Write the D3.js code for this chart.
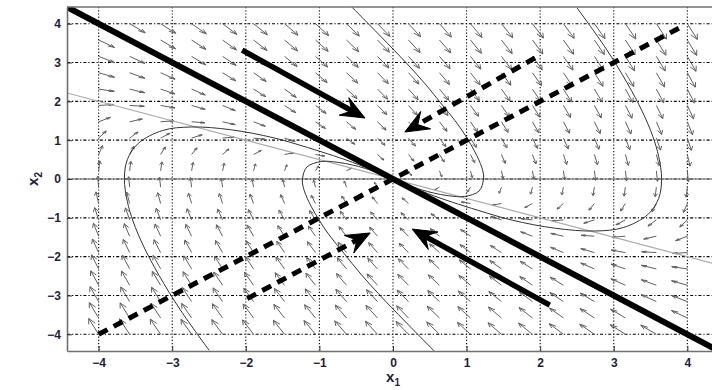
<!DOCTYPE html>
<html>
<head>
<meta charset="utf-8">
<script src="https://cdn.jsdelivr.net/npm/d3@7"></script>
<style>
  body { margin: 0; background: #fff; }
  svg { display: block; }
  text { font-family: "Liberation Sans", Arial, Helvetica, sans-serif; }
</style>
</head>
<body>
<svg id="chart" width="712" height="390"></svg>
<script>
// ---- data ---------------------------------------------------------------
const tickValues = [-4, -3, -2, -1, 0, 1, 2, 3, 4];

// quiver sample points (20 evenly spaced values from -4 to 4, both axes)
const quiverGrid = [-4, -3.5789, -3.1579, -2.7368, -2.3158, -1.8947, -1.4737, -1.0526,
  -0.6316, -0.2105, 0.2105, 0.6316, 1.0526, 1.4737, 1.8947, 2.3158, 2.7368,
  3.1579, 3.5789, 4];

// linear system dx/dt = A x (critically damped, double eigenvalue -1)
const systemMatrix = [[0, 1], [-1, -2]];

// eigenvector line x2 = -x1 (thick solid)
const eigenLine = [[-4.43, 4.43], [4.43, -4.43]];
// line x2 = x1 (thick dashed)
const diagonalLine = [[-4, -4], [3.95, 3.95]];
// nullcline dx2/dt = 0, x2 = -x1/2 (thin gray)
const nullcline = [[-4.43, 2.215], [4.43, -2.215]];

// big direction arrows [x0, y0, x1, y1]
const solidArrows = [[-2.05, 3.32, -0.38, 1.57], [2.13, -3.25, 0.26, -1.29]];
const dashedArrows = [[1.93, 3.12, 0.16, 1.21], [-1.98, -3.08, -0.31, -1.39]];

// phase-plane trajectories
const traj1 = [[-0.56, 4.43], [-0.16, 3.66], [0.18, 2.99], [0.45, 2.42], [0.66, 1.93],
  [0.84, 1.51], [0.97, 1.16], [1.14, 0.6], [1.22, 0.21], [1.23, 0], [1.17, -0.31],
  [0.97, -0.45], [0.75, -0.43], [0.55, -0.36], [0.39, -0.28], [0.27, -0.2],
  [0.13, -0.1], [0, 0]];
const traj2 = [[2.5, 4.41], [2.89, 3.37], [3.18, 2.48], [3.39, 1.73], [3.53, 1.1],
  [3.61, 0.58], [3.65, 0], [3.61, -0.5], [3.46, -0.92], [3.13, -1.25], [2.74, -1.34],
  [2.21, -1.27], [1.62, -1.06], [1.16, -0.81], [0.81, -0.6], [0.55, -0.43],
  [0.25, -0.2], [0.11, -0.09], [0, 0]];
const traj3 = [[-2.5, -4.41], [-2.89, -3.37], [-3.18, -2.48], [-3.39, -1.73], [-3.53, -1.1],
  [-3.61, -0.58], [-3.65, 0], [-3.61, 0.5], [-3.46, 0.92], [-3.13, 1.25], [-2.74, 1.34],
  [-2.21, 1.27], [-1.62, 1.06], [-1.16, 0.81], [-0.81, 0.6], [-0.55, 0.43],
  [-0.25, 0.2], [-0.11, 0.09], [0, 0]];
const traj4 = [[0.56, -4.43], [0.16, -3.66], [-0.18, -2.99], [-0.45, -2.42], [-0.66, -1.93],
  [-0.84, -1.51], [-0.97, -1.16], [-1.14, -0.6], [-1.22, -0.21], [-1.23, 0], [-1.17, 0.31],
  [-0.97, 0.45], [-0.75, 0.43], [-0.55, 0.36], [-0.39, 0.28], [-0.27, 0.2],
  [-0.13, 0.1], [0, 0]];
const trajectories = [traj1, traj2, traj3, traj4];

// ---- layout -------------------------------------------------------------
const svg = d3.select("#chart");
const plot = { left: 67, top: 7, right: 719, bottom: 351 };
const x = d3.scaleLinear().domain([-4.43, 4.43]).range([plot.left, plot.right]);
const y = d3.scaleLinear().domain([-4.43, 4.43]).range([plot.bottom, plot.top]);

svg.append("rect").attr("width", 712).attr("height", 390).attr("fill", "#fff");

svg.append("defs").append("clipPath").attr("id", "plotArea")
  .append("rect")
  .attr("x", plot.left).attr("y", plot.top)
  .attr("width", plot.right - plot.left).attr("height", plot.bottom - plot.top);

const g = svg.append("g").attr("clip-path", "url(#plotArea)");

// grid
g.append("g").selectAll("line").data(tickValues).join("line")
  .attr("x1", d => x(d)).attr("x2", d => x(d))
  .attr("y1", plot.top).attr("y2", plot.bottom)
  .attr("stroke", "#000").attr("stroke-width", 1.1)
  .attr("stroke-dasharray", "1.2,2");
g.append("g").selectAll("line").data(tickValues).join("line")
  .attr("x1", plot.left).attr("x2", plot.right)
  .attr("y1", d => y(d)).attr("y2", d => y(d))
  .attr("stroke", "#000").attr("stroke-width", 1.1)
  .attr("stroke-dasharray", "3,2,1.2,2");

// quiver field
const lenK = 0.155, lenPow = 0.4, headA = 0.33, headB = 0.33;
const arrows = [];
quiverGrid.forEach(gx => quiverGrid.forEach(gy => {
  const u = systemMatrix[0][0] * gx + systemMatrix[0][1] * gy;
  const v = systemMatrix[1][0] * gx + systemMatrix[1][1] * gy;
  const m = Math.hypot(u, v);
  if (m === 0) return;
  const s = lenK * Math.pow(m, lenPow) / m;
  arrows.push({ gx, gy, du: u * s, dv: v * s });
}));
g.append("g").selectAll("path").data(arrows).join("path")
  .attr("d", a => {
    const tx = a.gx + a.du, ty = a.gy + a.dv;
    const h1x = tx - headA * (a.du + headB * a.dv), h1y = ty - headA * (a.dv - headB * a.du);
    const h2x = tx - headA * (a.du - headB * a.dv), h2y = ty - headA * (a.dv + headB * a.du);
    return `M${x(a.gx)},${y(a.gy)}L${x(tx)},${y(ty)}` +
      `M${x(h1x)},${y(h1y)}L${x(tx)},${y(ty)}L${x(h2x)},${y(h2y)}`;
  })
  .attr("fill", "none").attr("stroke", "#606060").attr("stroke-width", 1);

// x2 = 0 reference line
g.append("line")
  .attr("x1", plot.left).attr("x2", plot.right)
  .attr("y1", y(0)).attr("y2", y(0))
  .attr("stroke", "#6a6a6a").attr("stroke-width", 1);

const line = d3.line().x(d => x(d[0])).y(d => y(d[1]));

// nullcline
g.append("path").attr("d", line(nullcline))
  .attr("fill", "none").attr("stroke", "#aaa").attr("stroke-width", 1.2);

// trajectories
const curve = d3.line().x(d => x(d[0])).y(d => y(d[1])).curve(d3.curveCatmullRom.alpha(0.5));
g.append("g").selectAll("path").data(trajectories).join("path")
  .attr("d", curve)
  .attr("fill", "none").attr("stroke", "#333").attr("stroke-width", 1);

// thick eigenvector line and dashed diagonal
g.append("path").attr("d", line(eigenLine))
  .attr("fill", "none").attr("stroke", "#000").attr("stroke-width", 6);
g.append("path").attr("d", line(diagonalLine))
  .attr("fill", "none").attr("stroke", "#000").attr("stroke-width", 5)
  .attr("stroke-dasharray", "10,7");

// big arrows with filled heads
function bigArrow(a, dashed) {
  const p0 = [x(a[0]), y(a[1])], p1 = [x(a[2]), y(a[3])];
  const dx = p1[0] - p0[0], dy = p1[1] - p0[1], L = Math.hypot(dx, dy);
  const ux = dx / L, uy = dy / L, nx = -uy, ny = ux;
  const headL = 24, headW = 10, notch = 15;
  const nb = [p1[0] - ux * notch, p1[1] - uy * notch];
  g.append("path")
    .attr("d", `M${p0[0]},${p0[1]}L${nb[0]},${nb[1]}`)
    .attr("fill", "none").attr("stroke", "#000")
    .attr("stroke-width", dashed ? 5 : 5.5)
    .attr("stroke-dasharray", dashed ? "10,7" : null);
  const b1 = [p1[0] - ux * headL + nx * headW, p1[1] - uy * headL + ny * headW];
  const b2 = [p1[0] - ux * headL - nx * headW, p1[1] - uy * headL - ny * headW];
  g.append("path")
    .attr("d", `M${p1[0]},${p1[1]}L${b1[0]},${b1[1]}L${nb[0]},${nb[1]}L${b2[0]},${b2[1]}Z`)
    .attr("fill", "#000").attr("stroke", "#000").attr("stroke-width", 1);
}
solidArrows.forEach(a => bigArrow(a, false));
dashedArrows.forEach(a => bigArrow(a, true));

// axes
const tickColor = "#1e1e3c";
const xAxis = svg.append("g").attr("transform", `translate(0,${plot.bottom})`)
  .call(d3.axisBottom(x).tickValues(tickValues).tickSizeInner(-5).tickSizeOuter(0).tickPadding(7));
const yAxis = svg.append("g").attr("transform", `translate(${plot.left},0)`)
  .call(d3.axisLeft(y).tickValues(tickValues).tickSizeInner(-5).tickSizeOuter(0).tickPadding(6));
[xAxis, yAxis].forEach(ax => {
  ax.select(".domain").attr("stroke", "#707070").attr("stroke-width", 1.6);
  ax.selectAll(".tick line").attr("stroke", "#333");
  ax.selectAll(".tick text").attr("fill", tickColor)
    .style("font-size", "12px").style("font-weight", "bold")
    .style("font-family", "'Liberation Sans', Arial, sans-serif");
});
svg.append("line")
  .attr("x1", plot.left).attr("x2", plot.right)
  .attr("y1", plot.top).attr("y2", plot.top)
  .attr("stroke", "#707070").attr("stroke-width", 1.6);

// axis labels
const xl = svg.append("text").attr("x", x(0)).attr("y", 382)
  .attr("text-anchor", "middle").attr("fill", tickColor)
  .style("font-size", "15px").style("font-weight", "bold");
xl.append("tspan").text("x");
xl.append("tspan").attr("dy", 4).style("font-size", "10px").text("1");

const yl = svg.append("text")
  .attr("transform", `translate(38,${y(0)}) rotate(-90)`)
  .attr("text-anchor", "middle").attr("fill", tickColor)
  .style("font-size", "15px").style("font-weight", "bold");
yl.append("tspan").text("x");
yl.append("tspan").attr("dy", 4).style("font-size", "10px").text("2");
</script>
</body>
</html>
